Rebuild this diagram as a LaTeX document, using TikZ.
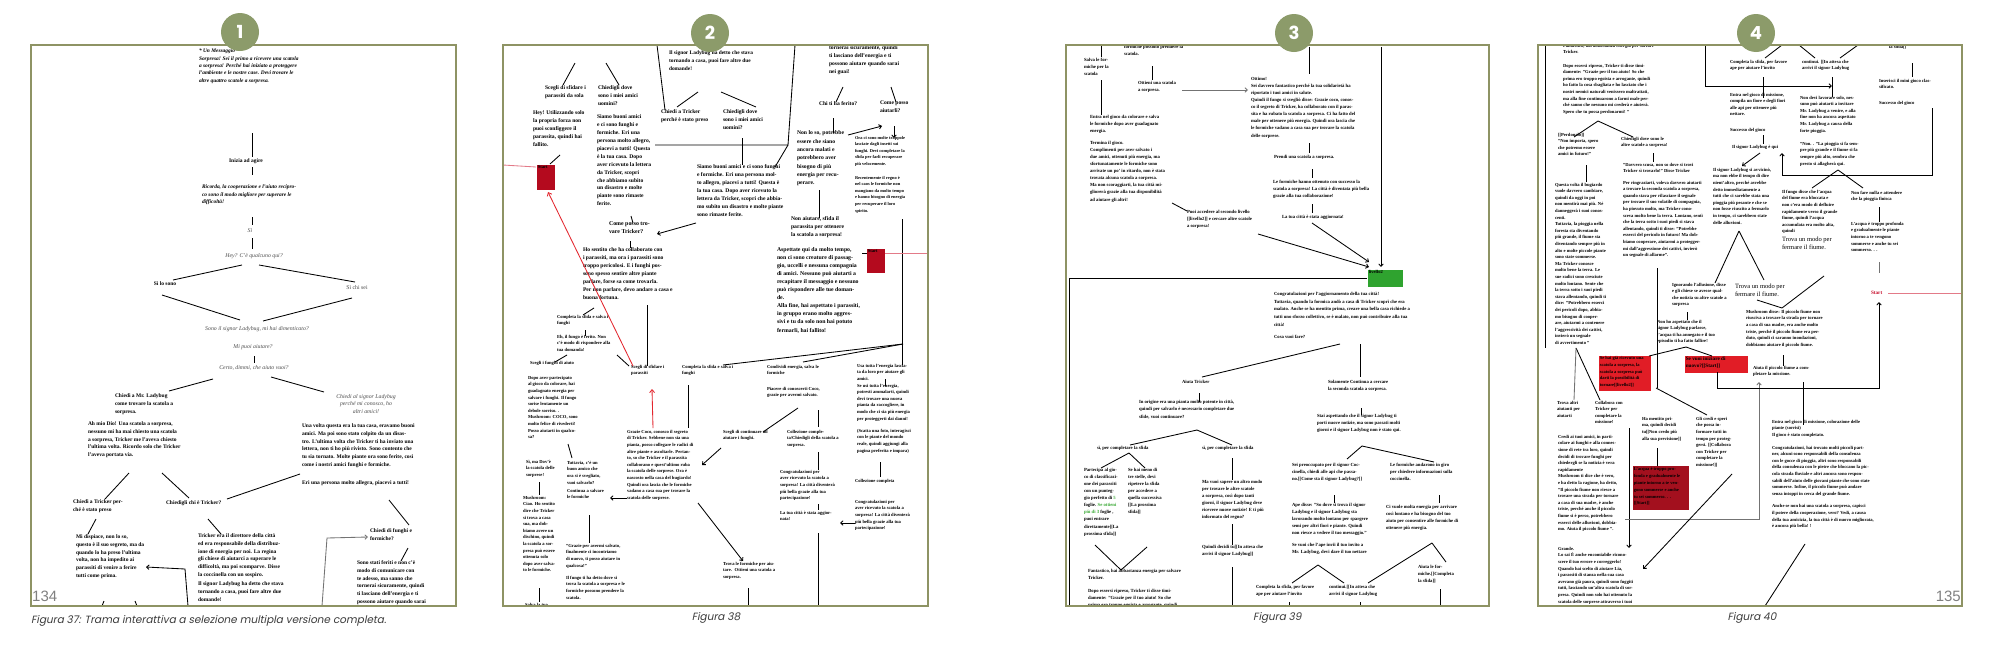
\documentclass[tikz,border=0pt]{standalone}
\usepackage{fontspec}
\setmainfont{Liberation Serif}
\newfontfamily\capfont[FakeSlant=0.2]{Poppins}
\newfontfamily\badgefont{Poppins}
\newfontfamily\pnfont{Liberation Sans}
\usetikzlibrary{arrows.meta}
\definecolor{badgecol}{HTML}{8C9B6A}
\definecolor{frmcol}{HTML}{8E9364}
\definecolor{darkred}{HTML}{B40A1E}
\definecolor{brightred}{HTML}{E11D26}
\definecolor{deepred}{HTML}{A3101E}
\definecolor{lvgreen}{HTML}{2FA32F}
\definecolor{grntxt}{HTML}{3AA935}
\definecolor{pinkline}{HTML}{E37A88}
\definecolor{redline}{HTML}{E3262E}
\definecolor{startred}{HTML}{C8102E}
\definecolor{capgray}{HTML}{3C3C3C}
\newcommand\fsA{\fontsize{5.5}{7.7}\selectfont\bfseries}
\newcommand\fsAm{\fontsize{5.8}{7.7}\selectfont}
\newcommand\fsU{\fontsize{5.6}{7.9}\selectfont\bfseries}
\newcommand\fsL{\fontsize{4.6}{6.6}\selectfont\bfseries}
\newcommand\fsT{\fontsize{4.7}{7.1}\selectfont\bfseries}
\newcommand\fsF{\fontsize{4.6}{6.6}\selectfont\bfseries}
\begin{document}
\begin{tikzpicture}[x=1pt,y=-1pt,
  tb/.style={anchor=north west,inner sep=0pt,outer sep=0pt,align=left},
  tc/.style={anchor=center,inner sep=0pt,outer sep=0pt,align=center},
  tw/.style={anchor=west,inner sep=0pt,outer sep=0pt},
  ln/.style={line width=0.85pt,draw=black},
  gln/.style={line width=0.85pt,draw=black!55},
  arr/.style={ln,-{Straight Barb[length=2.5pt,width=4.5pt]}},
  garr/.style={gln,-{Straight Barb[length=2.5pt,width=4.5pt]}},
  rarr/.style={line width=0.85pt,draw=redline,-{Straight Barb[length=3pt,width=5pt]}},
  pln/.style={line width=0.85pt,draw=pinkline},
  pframe/.style={draw=frmcol,line width=1.3pt},
  badge/.style={circle,fill=badgecol,minimum size=38pt,inner sep=0pt,text=white,font=\badgefont\bfseries\fontsize{18}{18}\selectfont},
  captxt/.style={inner sep=0pt,text=capgray,font=\capfont\fontsize{10.5}{12}\selectfont},
  pnum/.style={inner sep=0pt,text=black!50,font=\pnfont\fontsize{15}{15}\selectfont},
  rbox/.style={anchor=north west,inner sep=0pt,outer sep=0pt,draw=none},
  boxlbl/.style={anchor=north west,inner sep=0.6pt,align=left,font=\fontsize{4.6}{5.6}\selectfont\bfseries},
]
\useasboundingbox (0,0) rectangle (2000,654);
\fill[white] (0,0) rectangle (2000,654);

%================ PANEL 1 ================
\begin{scope}
\clip (31,45) rectangle (456,606);
\begin{scope}[font=\fsA]
\node[tb,font=\fontsize{5.4}{7.4}\selectfont\bfseries\itshape] (p1msg) at (199,49) {* Un Messaggio*\\Sorpresa! Sei il primo a ricevere una scatola\\a sorpresa! Perché hai iniziato a proteggere\\l'ambiente e le nostre case. Devi trovare le\\altre quattro scatole a sorpresa.};
\node[tc,font=\fsA] (p1agire) at (246,161) {Inizia ad agire};
\node[tb,font=\fontsize{5.4}{7.4}\selectfont\bfseries\itshape] (p1ricorda) at (202,185) {Ricorda, la cooperazione e l'aiuto recipro-\\co sono il modo migliore per superare le\\difficoltà!};
\node[tc,font=\fsAm\itshape,text=black!70] (p1si) at (250,231) {Sì};
\node[tc,font=\fsAm\itshape,text=black!70] (p1hey) at (254,256) {Hey? C'è qualcuno qui?};
\node[tc,font=\fsA] (p1sono) at (165,284) {Sì lo sono};
\node[tc,font=\fsAm,text=black!70] (p1chi) at (357,288) {Sì chi sei};
\node[tc,font=\fsAm\itshape,text=black!70] (p1lady) at (257,329) {Sono il signor Ladybug, mi hai dimenticato?};
\node[tc,font=\fsAm\itshape,text=black!70] (p1aiut) at (253,347) {Mi puoi aiutare?};
\node[tc,font=\fsAm\itshape,text=black!70] (p1certo) at (254,368) {Certo, dimmi, che aiuto vuoi?};
\node[tb] (p1chiedi) at (115,394) {Chiedi a Mr. Ladybug\\come trovare la scatola a\\sorpresa.};
\node[tc,anchor=north,font=\fsAm\itshape,text=black!70] (p1amici) at (366,394) {Chiedi al signor Ladybug\\perché mi conosco, ho\\altri amici!};
\node[tb] (p1dio) at (88,422) {Ah mio Dio! Una scatola a sorpresa,\\nessuno mi ha mai chiesto una scatola\\a sorpresa, Tricker me l'aveva chiesto\\l'ultima volta. Ricordo solo che Tricker\\l'aveva portata via.};
\node[tb] (p1casa) at (302,424) {Una volta questa era la tua casa, eravamo buoni\\amici. Ma poi sono stato colpito da un disas-\\tro. L'ultima volta che Tricker ti ha inviato una\\lettera, non ti ho più rivisto. Sono contento che\\tu sia tornato. Molte piante ora sono ferite, così\\come i nostri amici funghi e formiche.};
\node[tb] (p1eri) at (302,481) {Eri una persona molto allegra, piacevi a tutti!};
\node[tb] (p1preso) at (73,500) {Chiedi a Tricker per-\\ché è stato preso};
\node[tb] (p1chie) at (166,501) {Chiedigli chi è Tricker?};
\node[tb] (p1funghi) at (370,529) {Chiedi di funghi e\\formiche?};
\node[tb] (p1disp) at (76,535) {Mi dispiace, non lo so,\\questo è il suo segreto, ma da\\quando lo ha preso l'ultima\\volta, non ha impedito ai\\parassiti di venire a ferire\\tutti come prima.};
\node[tb] (p1dir) at (198,534) {Tricker era il direttore della città\\ed era responsabile della distribuz-\\ione di energia per noi. La regina\\gli chiese di aiutarci a superare le\\difficoltà, ma poi scomparve. Disse\\la coccinella con un sospiro.};
\node[tb] (p1torn) at (198,582) {Il signor Ladybug ha detto che stava\\tornando a casa, puoi fare altre due\\domande!};
\node[tb] (p1feriti) at (357,561) {Sono stati feriti e non c'è\\modo di comunicare con\\te adesso, ma sanno che\\tornerai sicuramente, quindi\\ti lasciano dell'energia e ti\\possono aiutare quando sarai};
\end{scope}
\foreach \n/\x/\y in {a1/252/133,a2/252/157,a3/252/167,a4/252/175,a5/252/217,a6/252/225,a7/252/238,a8/252/249,a9/242/265,a10/173/280,a11/259/265,a12/355/282,a13/162/295,a14/240/320,a15/352/298,a16/263/321,a17/254/356,a18/254/363,a19/213/379,a20/169/391,a21/271/377,a22/324/392,a23/129/473,a24/105/499,a25/162/473,a26/189/498,a27/300/474,a28/227/499,a29/389/500,a30/409/525,a31/96/519,a32/88/534,a33/208/519,a34/221/534,a35/408/548,a36/401/561,a37/322/606,a38/327/538,a39/368/537,a40/188/606,a41/185/569,a42/146/567,a43/102/606,a44/104/601,a45/135/601,a46/137/606}
  {\coordinate (\n) at (\x,\y);}
\foreach \s/\e in {a1/a2,a3/a4,a5/a6,a7/a8,a9/a10,a11/a12,a13/a14,a15/a16,a17/a18,a19/a20,a21/a22,a23/a24,a25/a26,a27/a28,a29/a30,a31/a32,a33/a34,a35/a36,a43/a44,a45/a46}
  {\draw[ln] (\s) -- (\e);}
\draw[garr] (a37) -- (a38) -- (a39);
\draw[arr] (a40) -- (a41) -- (a42);
\end{scope}
\draw[pframe] (31,45) rectangle (456,606);
\node[pnum,anchor=west] (pg134) at (32,596) {134};
\node[captxt,anchor=west] (cap37) at (31,621) {Figura 37: Trama interattiva a selezione multipla versione completa.};

%================ PANEL 2 ================
\begin{scope}
\clip (503,45) rectangle (928,606);
\begin{scope}[font=\fsL]
\node[tb,font=\fsU] (p2sfida) at (545,86) {Scegli di sfidare i\\parassiti da sola};
\node[tb,font=\fsU] (p2dove) at (598,86) {Chiedigli dove\\sono i miei amici\\uomini?};
\node[tb,font=\fsU] (p2hey) at (533,111) {Hey! Utilizzando solo\\la propria forza non\\puoi sconfiggere il\\parassita, quindi hai\\fallito.};
\node[tb,font=\fsU] (p2siamo) at (597,115) {Siamo buoni amici\\e ci sono funghi e\\formiche. Eri una\\persona molto allegro,\\piacevi a tutti! Questa\\è la tua casa. Dopo\\aver ricevuto la lettera\\da Tricker, scopri\\che abbiamo subito\\un disastro e molte\\piante sono rimaste\\ferite.};
\node[rbox,fill=darkred,minimum width=18pt,minimum height=25pt] (p2start) at (537,165) {};
\node[boxlbl] (p2startl) at (p2start.north west) {Start};
\node[tb,font=\fontsize{5.4}{7.9}\selectfont\bfseries] (p2torna) at (669,51) {Il signor Ladybug ha detto che stava\\tornando a casa, puoi fare altre due\\domande!};
\node[tb,font=\fsU] (p2perche) at (661,110) {Chiedi a Tricker\\perché è stato preso};
\node[tb,font=\fsU] (p2dove2) at (723,110) {Chiedigli dove\\sono i miei amici\\uomini?};
\node[tb,font=\fsU] (p2siamo2) at (697,165) {Siamo buoni amici e ci sono funghi\\e formiche. Eri una persona mol-\\to allegro, piacevi a tutti! Questa è\\la tua casa. Dopo aver ricevuto la\\lettera da Tricker, scopri che abbia-\\mo subito un disastro e molte piante\\sono rimaste ferite.};
\node[tb,font=\fontsize{5.9}{8}\selectfont\bfseries] (p2come) at (609,222) {Come posso tro-\\vare Tricker?};
\node[tb,font=\fsU] (p2sentito) at (583,248) {Ho sentito che ha collaborato con\\i parassiti, ma ora i parassiti sono\\troppo pericolosi. E i funghi pos-\\sono spesso sentire altre piante\\parlare, forse sa come trovarla.\\Per non parlare, devo andare a casa e\\buona fortuna.};
\node[tb] (p2compl1) at (557,315) {Completa la sfida e salva i\\funghi};
\node[tb] (p2eh) at (557,335) {Eh, il fungo è ferito. Non\\c'è modo di rispondere alla\\tua domanda!};
\node[tw] (p2aiuto) at (530,363) {Scegli i funghi di aiuto};
\node[tb] (p2sfida2) at (631,365) {Scegli di sfidare i\\parassiti};
\node[tb] (p2compl2) at (682,365) {Completa la sfida e salva i\\funghi};
\node[tb] (p2cond) at (767,365) {Condividi energia, salva le\\formiche};
\node[tb] (p2piacere) at (767,387) {Piacere di conoscerti Coco,\\grazie per avermi salvato.};
\node[tb] (p2dopo) at (528,376) {Dopo aver partecipato\\al gioco da colorare, hai\\guadagnato energia per\\salvare i funghi. Il fungo\\sorise lentamente un\\debole sorriso. .\\Mushroom: COCO, sono\\molto felice di rivederti!\\Posso aiutarti in qualco-\\sa?};
\node[tb] (p2dove3) at (526,460) {Sì, ma Dov'è\\la scatola delle\\sorprese!};
\node[tb] (p2tutt) at (567,461) {Tuttavia, c'è un\\buon amico che\\ora si è svegliato,\\vuoi salvarlo?};
\node[tb] (p2cont) at (567,489) {Continua a salvare\\le formiche};
\node[tb] (p2mush) at (523,496) {Mushroom:\\Ciao. Ho sentito\\dire che Tricker\\si trova a casa\\sua, ma dob-\\biamo avere un\\dischino, quindi\\la scatola a sor-\\presa può essere\\ottenuta solo\\dopo aver salva-\\to le formiche.};
\node[tb] (p2salva) at (525,603) {Salva la tua};
\node[tb] (p2grazie) at (566,544) {"Grazie per avermi salvato,\\finalmente ci incontriamo\\di nuovo, ti posso aiutare in\\qualcosa!"};
\node[tb] (p2fungo) at (566,576) {Il fungo ti ha detto dove si\\trova la scatola a sorpresa e le\\formiche possono prendere la\\scatola.};
\node[tb] (p2coco) at (627,430) {Grazie Coco, conosco il segreto\\di Tricker. Sebbene non sia una\\pianta, posso collegare le radici di\\altre piante e ascoltarle. Pertan-\\to, so che Tricker e il parassita\\collaborano e quest'ultimo ruba\\la scatola delle sorprese. Ora è\\nascosto nella casa del bugiardo!\\Quindi ora lascia che le formiche\\vadano a casa sua per trovare la\\scatola delle sorprese.};
\node[tb] (p2cont2) at (723,430) {Scegli di continuare ad\\aiutare i funghi.};
\node[tb] (p2coll) at (787,430) {Collezione comple-\\ta/Chiedigli della scatola a\\sorpresa.};
\node[tb] (p2congr) at (780,470) {Congratulazioni per\\aver ricevuto la scatola a\\sorpresa! La città diventerà\\più bella grazie alla tua\\partecipazione!};
\node[tb] (p2agg) at (780,511) {La tua città è stata aggior-\\nata!};
\node[tb] (p2usa) at (857,364) {Usa tutta l'energia lascia-\\ta da loro per aiutare gli\\amici.};
\node[tb] (p2seusi) at (857,384) {Se usi tutta l'energia,\\potresti ammalarti, quindi\\devi trovare una nuova\\pianta da raccogliere, in\\modo che ci sia più energia\\per proteggerti dai danni!};
\node[tb] (p2foto) at (857,429) {(Scatta una foto, interagisci\\con le piante del mondo\\reale, quindi aggiungi alla\\pagina preferita e impara)};
\node[tw] (p2collc) at (855,481) {Collezione completa};
\node[tb] (p2congr2) at (855,500) {Congratulazioni per\\aver ricevuto la scatola a\\sorpresa! La città diventerà\\più bella grazie alla tua\\partecipazione!};
\node[tb] (p2trova) at (723,562) {Trova le formiche per aiu-\\tare. \ Ottieni una scatola a\\sorpresa.};
\node[tb,font=\fsU] (p2sicur) at (829,46) {tornerai sicuramente, quindi\\ti lasciano dell'energia e ti\\possono aiutare quando sarai\\nei guai!};
\node[tw,font=\fsU] (p2chi) at (819,104) {Chi ti ha ferito?};
\node[tb,font=\fsU] (p2aiutarli) at (880,101) {Come posso\\aiutarli?};
\node[tb,font=\fontsize{5.7}{8.3}\selectfont\bfseries] (p2nonlo) at (797,131) {Non lo so, potrebbe\\essere che siano\\ancora malati e\\potrebbero aver\\bisogno di più\\energia per recu-\\perare.};
\node[tb,font=\fontsize{4.4}{6.6}\selectfont\bfseries] (p2trap) at (855,136) {Ora ci sono molte trappole\\lasciate dagli insetti sui\\funghi. Devi completare la\\sfida per farli recuperare\\più velocemente.};
\node[tb,font=\fontsize{4.4}{6.6}\selectfont\bfseries] (p2caos) at (855,176) {Recentemente il regno è\\nel caos le formiche non\\mangiano da molto tempo\\e hanno bisogno di energia\\per recuperare il loro\\spirito.};
\node[tb,font=\fontsize{5.7}{8}\selectfont\bfseries] (p2nonai) at (791,216) {Non aiutare, sfida il\\parassita per ottenere\\la scatola a sorpresa!};
\node[rbox,fill=darkred,minimum width=18pt,minimum height=24pt] (p2start2) at (867,249) {};
\node[boxlbl] (p2start2l) at (p2start2.north west) {Start};
\node[tb,font=\fontsize{5.8}{8.1}\selectfont\bfseries] (p2asp) at (777,247) {Aspettate qui da molto tempo,\\non ci sono creature di passag-\\gio, uccelli e nessuna compagnia\\di amici. Nessuno può aiutarti a\\recapitare il messaggio e nessuno\\può rispondere alle tue doman-\\de.\\Alla fine, hai aspettato i parassiti,\\in gruppo erano molto aggres-\\sivi e tu da solo non hai potuto\\fermarli, hai fallito!};
\end{scope}
\foreach \n/\x/\y in {b1/575/63,b2/563/85,b3/606/63,b4/619/85,b5/560/155,b6/550/164,b7/503/165,b8/536/167,b9/633/366,b10/548/192,b11/653/428,b12/652/389,b13/657/45,b14/665/110,b15/698/92,b16/677/107,b17/721/92,b18/756/107,b19/742/138,b20/742/165,b21/655/145,b22/788/145,b23/795/45,b24/775/167,b25/631/216,b26/633/223,b27/696/223,b28/657/234,b29/630/241,b30/630/248,b31/647/305,b32/647/366,b33/594/308,b34/583/315,b35/585/330,b36/585/336,b37/567/355,b38/555/362,b39/617/355,b40/629/366,b41/688/385,b42/688/428,b43/723/365,b44/903/344,b45/803/362,b46/902/219,b47/902/365,b48/568/444,b49/572/458,b50/539/482,b51/539/495,b52/539/588,b53/539/602,b54/589/515,b55/589/543,b56/627/498,b57/610/498,b60/721/448,b61/702/465,b62/798/408,b63/763/432,b64/818/410,b65/818/427,b66/818/452,b67/818/470,b68/818/504,b69/818/510,b70/855/523,b71/840/523,b72/818/533,b73/818/606,b74/885/379,b75/885/386,b76/880/462,b77/880/477,b78/698/503,b79/743/561,b80/748/588,b81/748/606,b82/843/87,b83/836/102,b84/891/87,b85/896/102,b86/833/118,b87/833/133,b88/848/135,b89/882/126,b90/894/126,b91/894/138,b92/819/190,b93/819/218,b94/862/253,b95/867/253,b96/885/253,b97/928/253}
  {\coordinate (\n) at (\x,\y);}
\foreach \s/\e in {b1/b2,b3/b4,b5/b6,b13/b14,b15/b16,b17/b18,b19/b20,b22/b24,b25/b26,b29/b30,b31/b32,b33/b34,b35/b36,b37/b38,b39/b40,b41/b42,b43/b44,b45/b44,b46/b47,b48/b49,b50/b51,b52/b53,b54/b55,b62/b63,b64/b65,b66/b67,b68/b69,b72/b73,b74/b75,b76/b77,b80/b81,b82/b83,b84/b85,b86/b87,b92/b93,b94/b95}
  {\draw[ln] (\s) -- (\e);}
\draw[ln] (b21) -- (b22) -- (b23);
\foreach \s/\e in {b27/b28,b56/b57,b60/b61,b70/b71,b78/b79,b88/b89,b90/b91}
  {\draw[arr] (\s) -- (\e);}
\draw[pln] (b7) -- (b8);
\draw[pln] (b96) -- (b97);
\draw[rarr] (b9) -- (b10);
\draw[rarr] (b11) -- (b12);
\end{scope}
\draw[pframe] (503,45) rectangle (928,606);
\node[captxt] (cap38) at (716,618) {Figura 38};

%================ PANEL 3 ================
\begin{scope}
\clip (1066,45) rectangle (1489,606);
\begin{scope}[font=\fsT]
\node[tb] (p3salva) at (1084,58) {Salva le for-\\miche per la\\scatola};
\node[tb] (p3prend) at (1124,45) {formiche possono prendere la\\scatola.};
\node[tb] (p3ott) at (1138,81) {Ottieni una scatola\\a sorpresa.};
\node[tb] (p3entra) at (1090,115) {Entra nel gioco da colorare e salva\\le formiche dopo aver guadagnato\\energia.};
\node[tb] (p3termina) at (1090,141) {Termina il gioco.\\Complimenti per aver salvato i\\due amici, ottenuti più energia, ma\\sfortunatamente le formiche sono\\arrivate un po' in ritardo, non è stata\\trovata alcuna scatola a sorpresa.\\Ma non scoraggiarti, la tua città mi-\\gliorerà grazie alla tua disponibilità\\ad aiutare gli altri!};
\node[tb] (p3puoi) at (1187,210) {Puoi accedere al secondo livello\\{}[[livello2]] e cercare altre scatole\\a sorpresa!};
\node[tb] (p3ottimo) at (1251,77) {Ottimo!\\Sei davvero fantastico perché la tua solidarietà ha\\riportato i tuoi amici in salute.\\Quindi il fungo si svegliò disse: Grazie coco, conos-\\co il segreto di Tricker, ha collaborato con il paras-\\sita e ha rubato la scatola a sorpresa. Ci ha fatto del\\male per ottenere più energia. Quindi ora lascia che\\le formiche vadano a casa sua per trovare la scatola\\delle sorprese.};
\node[tw] (p3prendi) at (1274,157) {Prendi una scatola a sorpresa.};
\node[tb] (p3form) at (1273,180) {Le formiche hanno ottenuto con successo la\\scatola a sorpresa! La città è diventata più bella\\grazie alla tua collaborazione!};
\node[tw] (p3agg) at (1282,217) {La tua città è stata aggiornata!};
\node[rbox,fill=lvgreen,minimum width=35pt,minimum height=17pt] (p3lv) at (1368,270) {};
\node[boxlbl] (p3lvl) at (p3lv.north west) {livello2};
\node[tb,font=\fontsize{4.7}{7.8}\selectfont\bfseries] (p3congr) at (1274,292) {Congratulazioni per l'aggiornamento della tua città!\\Tuttavia, quando la formica andò a casa di Tricker scoprì che era\\malato. Anche se ha mentito prima, creare una bella casa richiede a\\tutti uno sforzo collettivo, se è malato, non può contribuire alla tua\\città!};
\node[tw] (p3cosa) at (1274,337) {Cosa vuoi fare?};
\node[tw] (p3aiuta) at (1182,382) {Aiuta Tricker};
\node[tb,font=\fontsize{4.7}{7.6}\selectfont\bfseries] (p3orig) at (1139,400) {In origine era una pianta molto potente in città,\\quindi per salvarlo è necessario completare due\\sfide, vuoi continuare?};
\node[tw] (p3si1) at (1097,448) {sì, per completare la sfida};
\node[tw] (p3si2) at (1202,448) {sì, per completare la sfida};
\node[tb] (p3part) at (1084,468) {Partecipa al gio-\\co di classificazi-\\one dei parassiti\\con un punteg-\\gio perfetto di {\color{grntxt}5}\\foglie. {\color{grntxt}Se ottieni}\\{\color{grntxt}più di 3} foglie ,\\puoi entrare\\direttamente[[La\\prossima sfida]]};
\node[tb] (p3meno) at (1128,468) {Se hai meno di\\tre stelle, devi\\ripetere la sfida\\per accedere a\\quella successiva\\{}[[La prossima\\sfida]]};
\node[tb] (p3fant) at (1088,569) {Fantastico, hai abbastanza energia per salvare\\Tricker.};
\node[tb] (p3dopo) at (1088,589) {Dopo essersi ripreso, Tricker ti disse timi-\\damente: "Grazie per il tuo aiuto! So che\\prima ero troppo egoista e arrogante, quindi};
\node[tb] (p3vuoi) at (1202,480) {Ma vuoi sapere un altro modo\\per trovare le altre scatole\\a sorpresa, così dopo tanti\\giorni, il signor Ladybug deve\\ricevere nuove notizie! E ti più\\informato del regno?};
\node[tb] (p3decidi) at (1202,545) {Quindi decidi tu[[In attesa che\\arrivi il signor Ladybug]]};
\node[tb] (p3solam) at (1328,380) {Solamente Continua a cercare\\la seconda scatola a sorpresa.};
\node[tb] (p3stai) at (1317,414) {Stai aspettando che il signor Ladybug ti\\porti nuove notizie, ma sono passati molti\\giorni e il signor Ladybug non è stato qui.};
\node[tb] (p3preocc) at (1292,463) {Sei preoccupato per il signor Coc-\\cinella, chiedi alle api che passa-\\no.[[Come sta il signor Ladybug?]]};
\node[tb] (p3andar) at (1390,463) {Le formiche andarono in giro\\per chiedere informazioni sulla\\coccinella.};
\node[tb] (p3ape) at (1292,503) {Ape disse: "So dove si trova il signor\\Ladybug e il signor Ladybug sta\\lavorando molto lontano per spargere\\semi per altri fiori e piante. Quindi\\non riesce a vedere il tuo messaggio."};
\node[tb] (p3invii) at (1292,543) {Se vuoi che l'ape invii il tuo invito a\\Mr. Ladybug, devi dare il tuo nettare};
\node[tb] (p3vuole) at (1386,505) {Ci vuole molta energia per arrivare\\così lontano e ha bisogno del tuo\\aiuto per consentire alle formiche di\\ottenere più energia.};
\node[tb] (p3aiform) at (1418,565) {Aiuta le for-\\miche.[[Completa\\la sfida]]};
\node[tb] (p3compl) at (1256,585) {Completa la sfida, per favore\\ape per aiutare l'invito};
\node[tb] (p3contin) at (1329,585) {continui.[[In attesa che\\arrivi il signor Ladybug};
\end{scope}
\foreach \n/\x/\y in {c1/1101/45,c2/1101/57,c3/1101/80,c4/1101/115,c5/1152/66,c6/1152/80,c7/1182/90,c8/1248/90,c9/1172/203,c10/1187/211,c11/1309/47,c12/1309/74,c13/1309/143,c14/1309/153,c15/1312/169,c16/1312/178,c17/1312/204,c18/1312/213,c19/1312/223,c20/1369/262,c21/1258/234,c22/1369/267,c23/1381/47,c24/1381/267,c25/1367/278,c26/1069/278,c27/1069/606,c28/1340/344,c29/1202/377,c30/1360/344,c31/1360/377,c32/1361/408,c33/1361/415,c34/1362/446,c35/1347/459,c36/1434/462,c37/1334/495,c38/1334/503,c39/1439/495,c40/1439/503,c41/1318/565,c42/1292/583,c43/1344/583,c44/1432/543,c45/1368/583,c46/1446/562,c47/1440/589,c48/1440/606,c49/1289/602,c50/1289/606,c51/1360/602,c52/1360/606,c53/1199/393,c54/1199/402,c55/1197/430,c56/1130/445,c57/1232/445,c58/1129/453,c59/1101/468,c60/1145/468,c61/1095/545,c62/1121/570,c63/1147/547,c64/1232/458,c65/1232/480,c66/1232/524,c67/1232/545,c68/1232/567,c69/1232/606}
  {\coordinate (\n) at (\x,\y);}
\foreach \s/\e in {c1/c2,c3/c4,c5/c6,c9/c10,c11/c12,c13/c14,c15/c16,c17/c18,c28/c29,c30/c31,c32/c33,c34/c35,c34/c36,c37/c38,c39/c40,c41/c42,c41/c43,c44/c45,c44/c46,c47/c48,c49/c50,c51/c52,c53/c54,c55/c56,c55/c57,c58/c59,c58/c60,c64/c65,c66/c67,c68/c69}
  {\draw[ln] (\s) -- (\e);}
\draw[ln] (c61) -- (c62) -- (c63);
\draw[ln] (c25) -- (c26) -- (c27);
\draw[garr] (c7) -- (c8);
\foreach \s/\e in {c19/c20,c21/c22,c23/c24}
  {\draw[arr] (\s) -- (\e);}
\end{scope}
\draw[pframe] (1066,45) rectangle (1489,606);
\node[captxt,anchor=west] (cap39) at (1253,618) {Figura 39};

%================ PANEL 4 ================
\begin{scope}
\clip (1538,45) rectangle (1962,606);
\begin{scope}[font=\fsF]
\node[tb] (p4fant) at (1563,44) {Fantastico, hai abbastanza energia per salvare\\Tricker.};
\node[tb] (p4dopo) at (1563,64) {Dopo essersi ripreso, Tricker ti disse timi-\\damente: "Grazie per il tuo aiuto! So che\\prima ero troppo egoista e arrogante, quindi\\ho fatto la cosa sbagliata e ho lasciato che i\\nostri nemici naturali venissero maltrattati,\\ma alla fine continuarono a farmi male per-\\ché sanno che nessuno mi crederà e aiuterà.\\Spero che tu possa perdonarmi! "};
\node[tb] (p4perd) at (1558,133) {[[Perdonalo]]\\"Non importa, spero\\che potremo essere\\amici in futuro!"};
\node[tb] (p4chied) at (1621,137) {Chiedigli dove sono le\\altre scatole a sorpresa!};
\node[tb] (p4questa) at (1555,183) {Questa volta il bugiardo\\vuole davvero cambiare,\\quindi da oggi in poi\\non mentirà mai più. Né\\danneggerà i suoi conos-\\centi.\\Tuttavia, la pioggia nella\\foresta sta diventando\\più grande, il fiume sta\\diventando sempre più in\\alto e molte piccole piante\\sono state sommerse.\\Ma Tricker conosce\\molto bene la terra. Le\\sue radici sono cresciute\\molto lontano. Sente che\\la terra sotto i suoi piedi\\stava allentando, quindi ti\\dice: "Potrebbero esserci\\dei pericoli dopo, abbia-\\mo bisogno di cooper-\\are, aiutarmi a contenere\\l'aggressività dei cattivi,\\invierò un segnale\\di avvertimento "};
\node[tb] (p4scusa) at (1623,163) {"Davvero scusa, non so dove si trovi\\Tricker sì trovarlo!" Disse Tricker};
\node[tb] (p4ringr) at (1623,181) {Per ringraziarti, voleva davvero aiutarti\\a trovare la seconda scatola a sorpresa,\\quando stava per rilasciare il segnale\\per trovare il suo volatile di compagnia,\\ha piovuto molto, ma Tricker cono-\\sceva molto bene la terra. Lontano, sentì\\che la terra sotto i suoi piedi si stava\\allentando, quindi ti disse: "Potrebbe\\esserci del pericolo in futuro! Ma dob-\\biamo cooperare, aiutarmi a protegger-\\mi dall'aggressione dei cattivi, invierò\\un segnale di allarme".};
\node[rbox,fill=brightred,minimum width=52pt,minimum height=35pt] (p4r1) at (1599,356) {};
\node[boxlbl,font=\fontsize{4.5}{6.6}\selectfont\bfseries] (p4r1l) at (p4r1.north west) {Se hai già ricevuto una\\scatola a sorpresa, la\\scatola a sorpresa può\\darti la possibilità di\\tornare[[livello2]]};
\node[rbox,fill=brightred,minimum width=63pt,minimum height=17pt] (p4r2) at (1685,356) {};
\node[boxlbl,font=\fontsize{5.2}{7.2}\selectfont\bfseries] (p4r2l) at (p4r2.north west) {Se vuoi iniziare di\\nuovo?[[Start]]};
\node[rbox,fill=deepred,minimum width=56pt,minimum height=44pt] (p4r3) at (1633,466) {};
\node[boxlbl,font=\fontsize{4.5}{6.8}\selectfont\bfseries] (p4r3l) at ([yshift=-1pt]p4r3.north west) {L'acqua è troppo pro-\\fonda e gradualmente le\\piante intorno a te ven-\\gono sommerse e anche\\tu sei sommerso. . .\\{}[[Start]]};
\node[tb] (p4trova) at (1557,401) {Trova altri\\aiutanti per\\aiutarti};
\node[tb] (p4collab) at (1595,401) {Collabora con\\Tricker per\\completare la\\missione!};
\node[tb] (p4credi) at (1558,435) {Credi ai tuoi amici, in parti-\\colare ai funghi e alla connes-\\sione di rete tra loro, quindi\\decidi di trovare funghi per\\chiedergli se la notizia è vera\\rapidamente\\Mushroom ti dice che è vero,\\e ha detto la ragione, ha detto,\\"Il piccolo fiume non riesce a\\trovare una strada per tornare\\a casa di sua madre, è anche\\triste, perché anche il piccolo\\fiume si è perso, potrebbero\\esserci delle alluvioni, dobbia-\\mo. Aiuta il piccolo fiume ".};
\node[tb] (p4grande) at (1558,547) {Grande.\\Lo sai È anche encomiabile ricono-\\scere il tuo errore e correggerlo!\\Quando hai scelto di aiutare Lia,\\i parassiti di stanza nella sua casa\\avevano già paura, quindi sono fuggiti\\tutti, lasciando un'altra scatola di sor-\\presa. Quindi non solo hai ottenuto la\\scatola delle sorprese attraverso i tuoi};
\node[tb] (p4compl) at (1730,60) {Completa la sfida, per favore\\ape per aiutare l'invito};
\node[tb] (p4contin) at (1802,60) {continui. [[In attesa che\\arrivi il signor Ladybug};
\node[tb] (p4entra) at (1730,93) {Entra nel gioco di missione,\\compila un fiore e degli fiori\\alle api per ottenere più\\nettare.};
\node[tw] (p4succ) at (1730,130) {Successo del gioco};
\node[tw] (p4qui) at (1732,147) {Il signor Ladybug è qui};
\node[tb] (p4avvic) at (1713,168) {Il signor Ladybug si avvicinò,\\ma non ebbe il tempo di dire\\nient'altro, perché avrebbe\\detto immediatamente a\\tutti che ci sarebbe stata una\\pioggia più pesante e che se\\non fosse riuscito a fermarlo\\in tempo, ci sarebbero state\\delle alluvioni.};
\node[tb] (p4solo) at (1800,96) {Non devi lavorare solo, nes-\\suno può aiutarti a invitare\\Mr. Ladybug a venire, e alla\\fine non ha ancora aspettato\\Mr. Ladybug a causa della\\forte pioggia.};
\node[tb] (p4piogg) at (1800,142) {"Non. . "La pioggia si fa sem-\\pre più grande e il fiume si fa\\sempre più alto, sembra che\\presto si allagherà qui.};
\node[tb] (p4fungo) at (1782,190) {Il fungo disse che l'acqua\\del fiume era bloccata e\\non c'era modo di defluire\\rapidamente verso il grande\\fiume, quindi l'acqua\\accumulata era molto alta,\\quindi};
\node[tb,font=\fontsize{6.5}{8.4}\selectfont] (p4modo1) at (1782,237) {Trova un modo per\\fermare il fiume.};
\node[tb] (p4nulla) at (1851,191) {Non fare nulla e attendere\\che la pioggia finisca};
\node[tb] (p4prof) at (1851,222) {L'acqua è troppo profonda\\e gradualmente le piante\\intorno a te vengono\\sommerse e anche tu sei\\sommerso. . .};
\node[tw,font=\fontsize{5.2}{6}\selectfont\bfseries,text=startred] (p4start) at (1871,293) {Start};
\node[tb] (p4ins) at (1879,79) {Inserisci il mini gioco clas-\\sificato.};
\node[tw] (p4succ2) at (1879,103) {Successo del gioco};
\node[tb] (p4sfida) at (1889,39) {Ladybug, completa\\la sfida[]};
\node[tb] (p4ignor) at (1672,283) {Ignorando l'allusione, disse\\e gli chiese se avesse qual-\\che notizia su altre scatole a\\sorpresa};
\node[tb,font=\fontsize{6.5}{8.4}\selectfont] (p4modo2) at (1735,284) {Trova un modo per\\fermare il fiume.};
\node[tb] (p4mushd) at (1746,310) {Mushroom disse: Il piccolo fiume non\\riusciva a trovare la strada per tornare\\a casa di sua madre, era anche molto\\triste, perché il piccolo fiume era per-\\duto, quindi ci saranno inondazioni,\\dobbiamo aiutare il piccolo fiume.};
\node[tb] (p4aiuta) at (1753,366) {Aiuta il piccolo fiume a com-\\pletare la missione.};
\node[tb] (p4nonho) at (1657,320) {Non ho aspettato che il\\signor Ladybug parlasse,\\l'acqua ti ha annegato e il tuo\\episodio ti ha fatto fallire!};
\node[tb] (p4ment) at (1642,417) {Ha mentito pri-\\ma, quindi decidi\\tu[[Non credo più\\alla sua previsione]]};
\node[tb] (p4credi2) at (1696,417) {Gli credi e speri\\che possa in-\\formare tutti in\\tempo per proteg-\\gersi. [[Collabora\\con Tricker per\\completare la\\missione!]]};
\node[tb] (p4colora) at (1772,420) {Entra nel gioco di missione, colorazione delle\\piante (sorrisi)\\Il gioco è stato completato.\\[6pt]Congratulazioni, hai trovato molti piccoli part-\\ner, alcuni sono responsabili della consulenza\\con le gocce di pioggia, altri sono responsabili\\della consulenza con le pietre che bloccano la pic-\\cola strada fluviale e altri ancora sono respon-\\sabili dell'aiuto delle giovani piante che sono state\\sommerse. Infine, il piccolo fiume può andare\\senza intoppi in cerca del grande fiume.\\[6pt]Anche se non hai una scatola a sorpresa, capisci\\il potere della cooperazione, vero? Vedi, a causa\\della tua amicizia, la tua città è di nuovo migliorata,\\è ancora più bella! !};
\end{scope}
\foreach \n/\x/\y in {d1/1545/45,d2/1545/348,d3/1598/121,d4/1574/137,d5/1633/137,d6/1586/165,d7/1586/182,d8/1653/153,d9/1653/162,d10/1657/268,d11/1657/388,d12/1576/348,d13/1574/400,d14/1600/400,d15/1629/428,d16/1629/548,d17/1625/519,d18/1759/519,d19/1759/382,d20/1732/474,d21/1643/569,d22/1782/45,d23/1765/58,d24/1799/45,d25/1815/58,d26/1858/45,d27/1840/58,d28/1705/45,d29/1705/86,d30/1832/86,d31/1832/77,d32/1832/97,d33/1763/77,d34/1763/98,d35/1763/135,d36/1763/144,d37/1760/153,d38/1742/166,d39/1932/108,d40/1932/175,d41/1782/175,d42/1782/153,d43/1838/170,d44/1812/188,d45/1863/188,d46/1879/207,d47/1879/222,d48/1879/262,d49/1879/273,d50/1888/293,d51/1962/293,d52/1717/372,d53/1717/388,d54/1879/388,d55/1879/302,d56/1912/63,d57/1912/77,d58/1739/231,d59/1715/283,d60/1764/280,d61/1757/300,d62/1782/308,d63/1824/276,d64/1687/312,d65/1687/320,d66/1686/347,d67/1649/356,d68/1712/356,d69/1783/355,d70/1783/366,d71/1803/382,d72/1803/425,d73/1656/388,d74/1707/415,d75/1657/448,d76/1657/466,d77/1805/544,d78/1765/606}
  {\coordinate (\n) at (\x,\y);}
\foreach \s/\e in {d1/d2,d3/d4,d3/d5,d6/d7,d8/d9,d10/d11,d12/d14,d22/d23,d24/d25,d26/d27,d31/d32,d33/d34,d35/d36,d43/d44,d43/d45,d46/d47,d56/d57,d58/d59,d58/d60,d64/d65,d66/d67,d66/d68,d69/d70,d71/d72,d73/d74,d75/d76,d77/d78}
  {\draw[ln] (\s) -- (\e);}
\draw[gln] (d12) -- (d13);
\draw[gln] (d48) -- (d49);
\draw[ln] (d61) -- (d62) -- (d63);
\draw[arr] (d15) -- (d16);
\draw[garr] (d17) -- (d18) -- (d19);
\draw[arr] (d20) -- (d21);
\draw[arr] (d28) -- (d29) -- (d30);
\draw[arr] (d37) -- (d38);
\draw[arr] (d39) -- (d40) -- (d41) -- (d42);
\draw[arr] (d52) -- (d53) -- (d54) -- (d55);
\draw[pln] (d50) -- (d51);
\end{scope}
\draw[pframe] (1538,45) rectangle (1962,606);
\node[pnum,anchor=east] (pg135) at (1961,596) {135};
\node[captxt] (cap40) at (1752,618) {Figura 40};

%================ BADGES ================
\node[badge] (bd1) at (240,32) {1};
\node[badge] (bd2) at (710,33) {2};
\node[badge] (bd3) at (1294,33) {3};
\node[badge] (bd4) at (1756,33) {4};
\end{tikzpicture}
\end{document}
